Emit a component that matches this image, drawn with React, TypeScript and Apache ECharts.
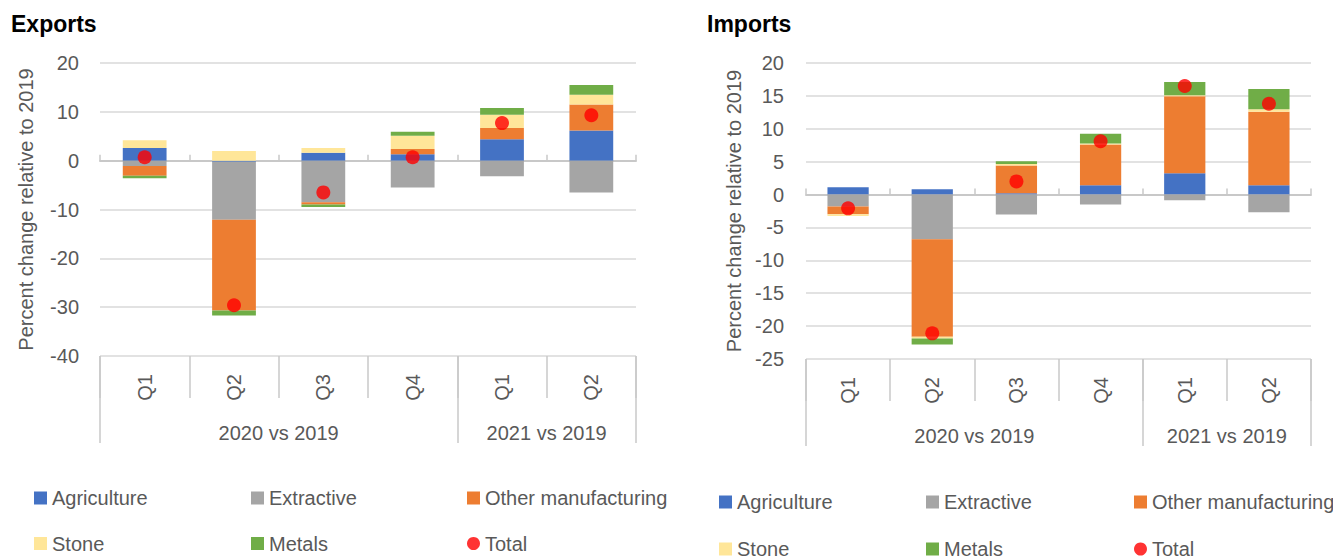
import React, { useEffect, useRef } from "react";
import * as echarts from "echarts";

const quarters = ["Q1", "Q2", "Q3", "Q4", "Q1", "Q2"];
const groupLabels = ["2020 vs 2019", "2021 vs 2019"];
const groupSizes = [4, 2];
const seriesNames = ["Agriculture", "Extractive", "Other manufacturing", "Stone", "Metals"];
const totalName = "Total";

const expAgriculture = [2.6, -0.2, 1.6, 1.3, 4.4, 6.2];
const expExtractive = [-1.1, -11.9, -8.5, -5.5, -3.2, -6.5];
const expOtherManufacturing = [-2.0, -18.6, -0.5, 1.1, 2.3, 5.3];
const expStone = [1.6, 2.0, 1.0, 2.7, 2.7, 2.0];
const expMetals = [-0.5, -1.0, -0.5, 0.8, 1.4, 2.0];
const expTotal = [0.7, -29.6, -6.5, 0.7, 7.7, 9.3];

const impAgriculture = [1.1, 0.8, 0.2, 1.4, 3.25, 1.4];
const impExtractive = [-1.8, -6.8, -3.05, -1.5, -0.85, -2.7];
const impOtherManufacturing = [-1.2, -14.8, 4.2, 6.2, 11.7, 11.2];
const impStone = [-0.25, -0.3, 0.25, 0.15, 0.15, 0.35];
const impMetals = [0, -0.9, 0.4, 1.5, 2.0, 3.1];
const impTotal = [-2.1, -21.1, 2.0, 8.1, 16.5, 13.8];

const colors = ["#4472c4", "#a5a5a5", "#ed7d31", "#ffe699", "#70ad47"];
const FONT = "'Liberation Sans', Arial, sans-serif";
const FS = 20;
const TEXT = "#595959";
const AXIS_GRAY = "#c8c8c8";

function buildPanel(
  p: number,
  rect: { left: number; top: number; width: number; height: number },
  yMin: number,
  yMax: number,
  yInterval: number,
  nameGap: number,
  labelMargin: number,
  bars: number[][],
  total: number[]
) {
  const bounds: number[] = [0];
  const centers: number[] = [];
  groupSizes.forEach((s) => {
    const start = bounds[bounds.length - 1];
    centers.push(start + s / 2);
    bounds.push(start + s);
  });
  const nCat = quarters.length;
  const grid = { ...rect, outerBoundsMode: "none", containLabel: false };
  const xAxes = [
    {
      type: "category",
      gridIndex: p,
      data: quarters,
      position: "bottom",
      axisLine: { show: false, onZero: false },
      axisTick: { show: true, length: 42, lineStyle: { color: AXIS_GRAY, width: 1.5 } },
      axisLabel: { rotate: 90, margin: 18, fontFamily: FONT, fontSize: FS, color: TEXT, interval: 0 },
      splitLine: { show: false },
    },
    {
      type: "value",
      gridIndex: p,
      min: 0,
      max: nCat,
      position: "bottom",
      axisLine: { show: false, onZero: false },
      axisTick: { show: true, length: 87, customValues: bounds, lineStyle: { color: AXIS_GRAY, width: 1.5 } },
      axisLabel: {
        show: true,
        margin: 67,
        customValues: centers,
        formatter: (v: number) => {
          const i = centers.indexOf(v);
          return i >= 0 ? groupLabels[i] : "";
        },
        fontFamily: FONT,
        fontSize: FS,
        color: TEXT,
      },
      splitLine: { show: false },
    },
    {
      type: "category",
      gridIndex: p,
      data: quarters,
      position: "bottom",
      axisLine: { show: true, onZero: true, lineStyle: { color: AXIS_GRAY, width: 2 } },
      axisTick: { show: true, inside: true, length: 6, lineStyle: { color: AXIS_GRAY, width: 1.5 } },
      axisLabel: { show: false },
      splitLine: { show: false },
    },
  ];
  const yAxis = {
    type: "value",
    gridIndex: p,
    min: yMin,
    max: yMax,
    interval: yInterval,
    name: "Percent change relative to 2019",
    nameLocation: "middle",
    nameGap,
    nameTextStyle: { fontFamily: FONT, fontSize: FS, color: TEXT },
    axisLine: { show: false, onZero: false },
    axisTick: { show: false },
    axisLabel: { margin: labelMargin, fontFamily: FONT, fontSize: FS, color: TEXT },
    splitLine: { show: true, lineStyle: { color: "#d9d9d9", width: 1.5 } },
  };
  const xi = p * 3;
  const series: any[] = bars.map((d, i) => ({
    type: "bar",
    name: seriesNames[i],
    xAxisIndex: xi,
    yAxisIndex: p,
    stack: "s" + p,
    barWidth: "49%",
    data: d,
    itemStyle: { color: colors[i] },
  }));
  series.push({
    type: "scatter",
    name: totalName,
    xAxisIndex: xi,
    yAxisIndex: p,
    data: total,
    symbol: "circle",
    symbolSize: 14,
    itemStyle: { color: "#ff0000" },
    z: 5,
  });
  return { grid, xAxes, yAxis, series };
}

function legends(cols: number[], rowCenters: number[]) {
  const layout = [
    [seriesNames[0], seriesNames[1], seriesNames[2]],
    [seriesNames[3], seriesNames[4], totalName],
  ];
  const out: any[] = [];
  layout.forEach((row, r) => {
    row.forEach((name, c) => {
      out.push({
        orient: "horizontal",
        left: cols[c],
        top: rowCenters[r] - 8,
        padding: 0,
        itemWidth: 13,
        itemHeight: 13,
        selectedMode: false,
        textStyle: { fontFamily: FONT, fontSize: FS, color: TEXT, lineHeight: 16 },
        data: [{ name, icon: name === totalName ? "circle" : "rect" }],
      });
    });
  });
  return out;
}

export default function App() {
  const ref = useRef<HTMLDivElement>(null);
  useEffect(() => {
    if (!ref.current) return;
    const chart = echarts.init(ref.current, undefined, { renderer: "svg" });
    const a = buildPanel(
      0,
      { left: 100, top: 63, width: 536, height: 293 },
      -40, 20, 10, 64, 21,
      [expAgriculture, expExtractive, expOtherManufacturing, expStone, expMetals],
      expTotal
    );
    const b = buildPanel(
      1,
      { left: 806, top: 63, width: 505, height: 296 },
      -25, 20, 5, 62, 22,
      [impAgriculture, impExtractive, impOtherManufacturing, impStone, impMetals],
      impTotal
    );
    const titleStyle = { fontFamily: FONT, fontWeight: "bold", fontSize: 23, color: "#000" };
    const option: any = {
      animation: false,
      backgroundColor: "#ffffff",
      title: [
        { text: "Exports", left: 11, top: 12, padding: 0, textStyle: titleStyle },
        { text: "Imports", left: 707, top: 12, padding: 0, textStyle: titleStyle },
      ],
      legend: [...legends([34, 251, 467], [496, 541.5]), ...legends([719, 926, 1134], [500, 547])],
      grid: [a.grid, b.grid],
      xAxis: [...a.xAxes, ...b.xAxes],
      yAxis: [a.yAxis, b.yAxis],
      series: [...a.series, ...b.series],
    };
    chart.setOption(option);
    return () => chart.dispose();
  }, []);
  return (
    <div
      ref={ref}
      style={{ position: "fixed", left: 0, top: 0, width: 1333, height: 557, background: "#fff" }}
    />
  );
}
